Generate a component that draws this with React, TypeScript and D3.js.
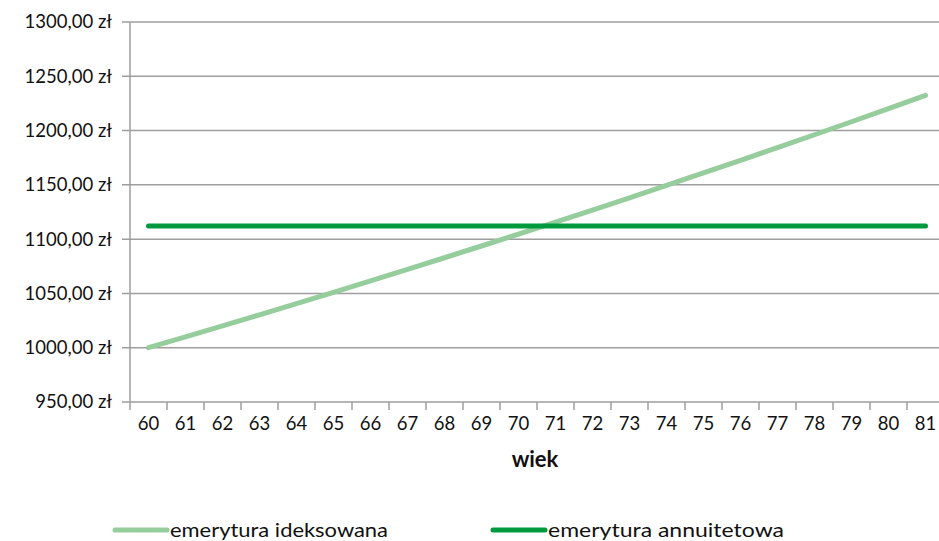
import React from "react";
import * as d3 from "d3";

const ages = [60, 61, 62, 63, 64, 65, 66, 67, 68, 69, 70, 71, 72, 73, 74, 75, 76, 77, 78, 79, 80, 81];
const indexed = [1000, 1010, 1020.1, 1030.3, 1040.6, 1051.01, 1061.52, 1072.14, 1082.86, 1093.69, 1104.62, 1115.67, 1126.83, 1138.09, 1149.47, 1160.97, 1172.58, 1184.3, 1196.15, 1208.11, 1220.19, 1232.39];
const annuity = [1112, 1112, 1112, 1112, 1112, 1112, 1112, 1112, 1112, 1112, 1112, 1112, 1112, 1112, 1112, 1112, 1112, 1112, 1112, 1112, 1112, 1112];
const yTicks = [950, 1000, 1050, 1100, 1150, 1200, 1250, 1300];
const seriesNames = ["emerytura ideksowana", "emerytura annuitetowa"];
const colors = ["#95cd9c", "#009a3e"];

export default function App() {
  const W = 939, H = 541;
  const left = 130, right = 944, top = 22, bottom = 402;
  const x = d3.scaleBand<number>().domain(ages).range([left, right]);
  const y = d3.scaleLinear().domain([950, 1300]).range([bottom, top]);
  const line = d3.line<number>().x((_, i) => x(ages[i])! + x.bandwidth() / 2).y(d => y(d));
  const font = "Lato, 'Open Sans', sans-serif";
  const fmt = (v: number) => v.toFixed(2).replace(".", ",") + " zł";
  const boundaries = ages.map(a => x(a)!).concat([right]);
  return (
    <svg width={W} height={H} style={{ position: "absolute", left: 0, top: 0 }} fontFamily={font}>
      {yTicks.map(t => (
        <g key={t}>
          <line x1={left - 8} x2={right} y1={y(t)} y2={y(t)} stroke="#9e9e9e" strokeWidth={1.5} />
          <text x={112} y={y(t)} dy="0.35em" textAnchor="end" fontSize={18.5} fill="#111">{fmt(t)}</text>
        </g>
      ))}
      <line x1={left} x2={left} y1={top} y2={bottom} stroke="#9e9e9e" strokeWidth={1.5} />
      {boundaries.map((b, i) => (
        <line key={i} x1={b} x2={b} y1={bottom} y2={bottom + 8} stroke="#9e9e9e" strokeWidth={1.5} />
      ))}
      {ages.map(a => (
        <text key={a} x={x(a)! + x.bandwidth() / 2} y={424} dy="0.35em" textAnchor="middle" fontSize={18.5} fill="#111">{a}</text>
      ))}
      <text x={535} y={459} dy="0.35em" textAnchor="middle" fontSize={22} fontWeight="bold" fill="#111">wiek</text>
      <path d={line(indexed)!} fill="none" stroke={colors[0]} strokeWidth={5} strokeLinecap="round" />
      <path d={line(annuity)!} fill="none" stroke={colors[1]} strokeWidth={5} strokeLinecap="round" />
      <g>
        <line x1={115} x2={167} y1={530} y2={530} stroke={colors[0]} strokeWidth={5} strokeLinecap="round" />
        <text x={170} y={530} dy="0.35em" fontSize={19} fill="#111" textLength={218} lengthAdjust="spacingAndGlyphs">{seriesNames[0]}</text>
        <line x1={493} x2={545} y1={530} y2={530} stroke={colors[1]} strokeWidth={5} strokeLinecap="round" />
        <text x={548} y={530} dy="0.35em" fontSize={19} fill="#111" textLength={236} lengthAdjust="spacingAndGlyphs">{seriesNames[1]}</text>
      </g>
    </svg>
  );
}
